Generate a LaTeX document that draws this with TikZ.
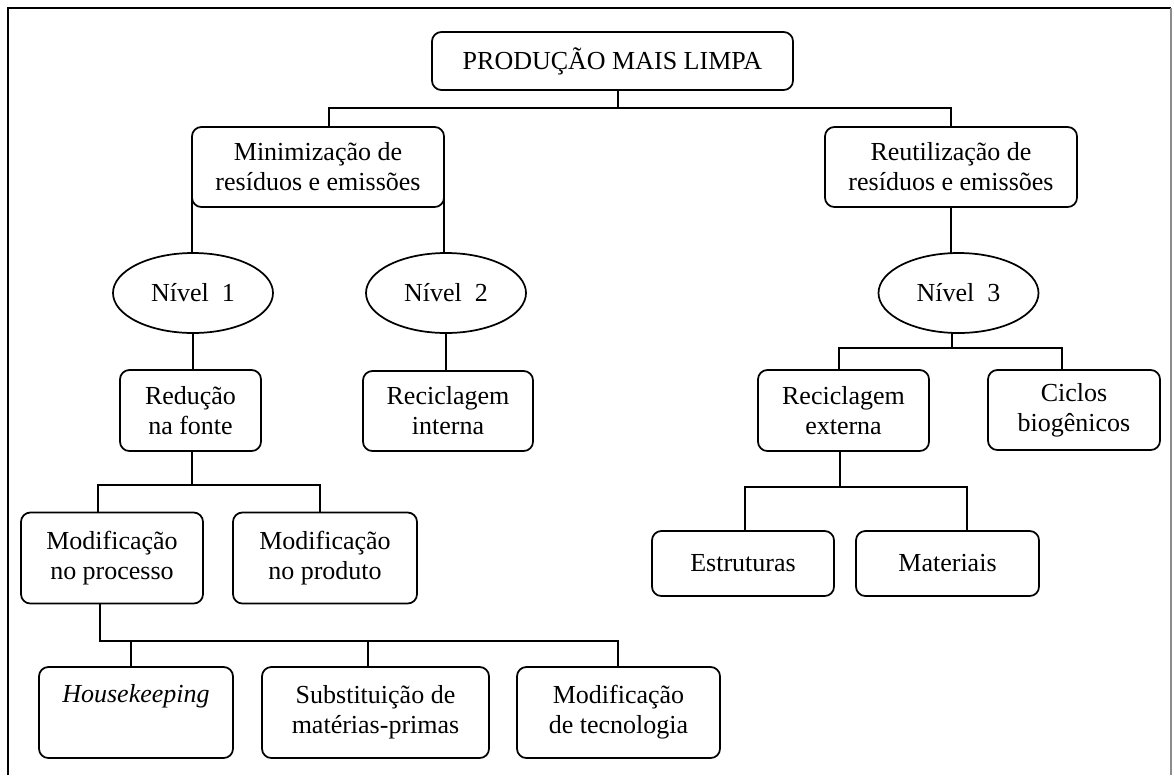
\documentclass[tikz,border=0pt]{standalone}
\usepackage{fontspec}
\setmainfont{Liberation Serif}
\usetikzlibrary{shapes.geometric}
\begin{document}
\begin{tikzpicture}[x=0.75pt, y=-0.75pt, line width=1.3pt,
  every node/.style={font=\fontsize{19.5}{22.5}\selectfont, align=center,
    inner sep=0pt, outer sep=0pt},
  rbox/.style 2 args={draw, rounded corners=7pt,
    minimum width=#1*0.75pt, minimum height=#2*0.75pt},
  lvl/.style={draw, ellipse, minimum width=160*0.75pt, minimum height=80*0.75pt}]
\useasboundingbox (0,0) rectangle (1174,775);

% outer frame
\draw (8,775) -- (8,8) -- (1171,8);
\draw[black!45] (1171,8) -- (1171,775);

% boxes and levels
\node[rbox={361}{58}] (top) at (612.5,61) {PRODUÇÃO MAIS LIMPA};
\node[rbox={252}{80}] (min) at (318,167) {Minimização de\\resíduos e emissões};
\node[rbox={252}{80}] (reu) at (951,167) {Reutilização de\\resíduos e emissões};
\node[lvl] (n1) at (193,293) {Nível~~1};
\node[lvl] (n2) at (446,293) {Nível~~2};
\node[lvl] (n3) at (958.5,293) {Nível~~3};
\node[rbox={141}{81}] (red) at (190.5,410.5) {Redução\\na fonte};
\node[rbox={170}{80}] (rint) at (448,411) {Reciclagem\\interna};
\node[rbox={171}{81}] (rext) at (843.5,410.5) {Reciclagem\\externa};
\node[rbox={172}{80}] (cic) at (1074,410) {Ciclos\\biogênicos};
\node[rbox={182}{91}] (mproc) at (112,558) {Modificação\\no processo};
\node[rbox={184}{91}] (mprod) at (325,558) {Modificação\\no produto};
\node[rbox={182}{65}] (est) at (743,563.5) {Estruturas};
\node[rbox={183}{65}] (mat) at (947.5,563.5) {Materiais};
\node[rbox={194}{91}] (hk) at (136,712.5) {\textit{Housekeeping}\\\strut};
\node[rbox={227}{91}] (sub) at (375.5,712.5) {Substituição de\\matérias-primas};
\node[rbox={203}{91}] (mtec) at (618.5,712.5) {Modificação\\de tecnologia};

% bus points
\coordinate (bA) at (618,108);
\coordinate (bAl) at (329,108);
\coordinate (bAr) at (951,108);
\coordinate (c3) at (952,348);
\coordinate (c3l) at (839,348);
\coordinate (c3r) at (1062,348);
\coordinate (r1) at (192,485);
\coordinate (r1l) at (98,485);
\coordinate (r1r) at (320,485);
\coordinate (p1) at (100,641);
\coordinate (p1a) at (131,641);
\coordinate (p1b) at (368,641);
\coordinate (p1r) at (618,641);
\coordinate (e1) at (840,487);
\coordinate (e1l) at (745,487);
\coordinate (e1r) at (967,487);

% connectors
\draw (bA |- top.south) -- (bA);
\draw (bAl |- min.north) -- (bAl) -- (bAr) -- (bAr |- reu.north);
\draw (min.west) -- (min.west |- n1.north);
\draw (min.east) -- (min.east |- n2.north);
\draw (reu.south) -- (reu.south |- n3.north);
\draw (n1.south) -- (n1.south |- red.north);
\draw (n2.south) -- (n2.south |- rint.north);
\draw (c3 |- n3.south) -- (c3);
\draw (c3l |- rext.north) -- (c3l) -- (c3r) -- (c3r |- cic.north);
\draw (r1 |- red.south) -- (r1);
\draw (r1l |- mproc.north) -- (r1l) -- (r1r) -- (r1r |- mprod.north);
\draw (p1 |- mproc.south) -- (p1) -- (p1r) -- (p1r |- mtec.north);
\draw (p1a) -- (p1a |- hk.north);
\draw (p1b) -- (p1b |- sub.north);
\draw (e1 |- rext.south) -- (e1);
\draw (e1l |- est.north) -- (e1l) -- (e1r) -- (e1r |- mat.north);
\end{tikzpicture}
\end{document}
